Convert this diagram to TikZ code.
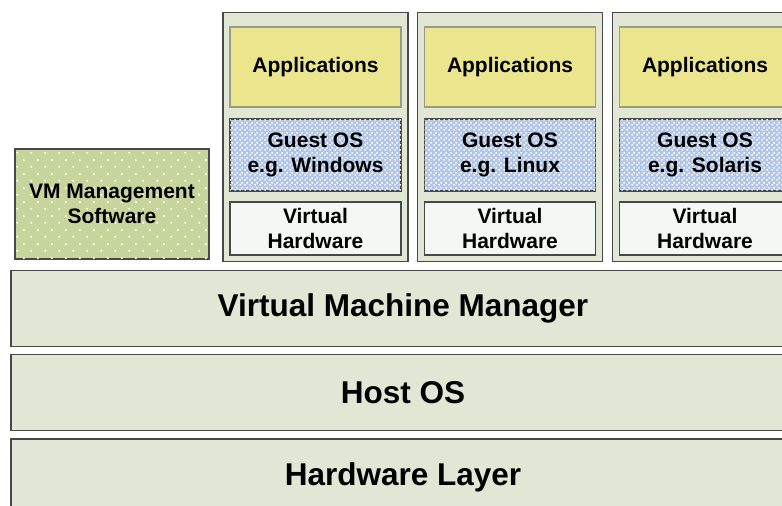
\documentclass[tikz,border=0pt]{standalone}
\usepackage{fontspec}
\setmainfont{Liberation Sans}
\usetikzlibrary{patterns.meta}

\definecolor{layerfill}{HTML}{E1E6D5}
\definecolor{edgegray}{HTML}{484848}
\definecolor{appfill}{HTML}{EBE68E}
\definecolor{appedge}{HTML}{9C9C86}
\definecolor{osfill}{HTML}{B3C6E6}
\definecolor{hwfill}{HTML}{F5F7F5}
\definecolor{mgmtfill}{HTML}{C5D59B}

% dotted fills: a sparse one for the management box, a dense one for guest OSes
\tikzdeclarepattern{name=sparsedots, type=uncolored,
  bounding box={(0,0) and (14pt,14pt)}, tile size={(14pt,14pt)},
  code={\fill (3.5pt,3.5pt) circle (1.2pt); \fill (10.5pt,10.5pt) circle (1.2pt);}}
\tikzdeclarepattern{name=densedots, type=uncolored,
  bounding box={(0,0) and (4.5pt,4.5pt)}, tile size={(4.5pt,4.5pt)},
  code={\fill (0.4pt,0.4pt) rectangle (2.0pt,2.0pt); \fill (2.65pt,2.65pt) rectangle (4.25pt,4.25pt);}}

\tikzset{
  smalltext/.style={font=\bfseries\fontsize{21}{25.5}\selectfont, align=center, text=black},
  bigtext/.style={font=\bfseries\fontsize{31.5}{36}\selectfont, text=black},
  layerbox/.style={draw=edgegray, line width=1.8pt, fill=layerfill, inner sep=0pt,
    minimum width=784pt, minimum height=76pt, bigtext},
  vmcol/.style={draw=edgegray, line width=1.6pt, fill=layerfill, inner sep=0pt,
    minimum width=185pt, minimum height=249pt},
  appbox/.style={draw=appedge, line width=1.4pt, fill=appfill, inner sep=0pt,
    minimum width=171pt, minimum height=80pt, smalltext},
  osbox/.style={draw=edgegray, line width=1.6pt, fill=osfill, inner sep=0pt,
    minimum width=171pt, minimum height=72pt, smalltext,
    postaction={pattern={densedots}, pattern color=white!92!osfill}},
  hwbox/.style={draw=edgegray, line width=1.6pt, fill=hwfill, inner sep=0pt,
    minimum width=171pt, minimum height=53pt, smalltext},
  mgmtbox/.style={draw=edgegray, line width=1.6pt, fill=mgmtfill, inner sep=0pt,
    minimum width=194pt, minimum height=110pt, smalltext,
    postaction={pattern={sparsedots}, pattern color=white}},
}

\begin{document}
\begin{tikzpicture}[x=1pt, y=-1pt]
  \useasboundingbox (0,0) rectangle (782,506);
  \clip (0,0) rectangle (782,506);

  % stack of shared layers
  \node[layerbox] (vmm)  at (403,308.5) {Virtual Machine Manager};
  \node[layerbox] (host) at (403,392.5) {Host OS};
  \node[layerbox] (hw)   at (403,477)   {Hardware Layer};

  % management software beside the guest machines
  \node[mgmtbox] (mgmt) at (112,204) {VM Management\\Software};

  % one column per guest machine
  \foreach \n/\cx/\os in {1/315.5/Windows, 2/510/Linux, 3/705/Solaris}{
    \node[vmcol] (vm\n) at (\cx,137) {};
    \node[appbox] (app\n) at (\cx,67) {Applications};
    \node[osbox]  (os\n)  at (\cx,155) {Guest OS\\e.g. \os};
    \node[hwbox]  (vhw\n) at (\cx,228.5) {Virtual\\Hardware};
  }
\end{tikzpicture}
\end{document}
